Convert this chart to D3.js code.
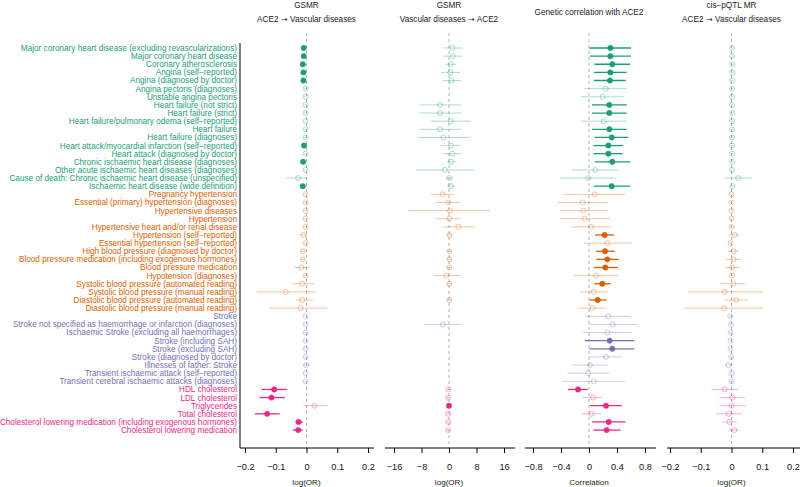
<!DOCTYPE html>
<html>
<head>
<meta charset="utf-8">
<script src="https://cdn.jsdelivr.net/npm/d3@7"></script>
<style>
  html, body { margin: 0; padding: 0; background: #fff; }
  svg { display: block; font-family: "Liberation Sans", Arial, Helvetica, sans-serif; }
</style>
</head>
<body>
<svg id="chart" width="800" height="487"></svg>
<script>
// ---------------- DATA ----------------
const labels = [
  "Major coronary heart disease (excluding revascularizations)",
  "Major coronary heart disease",
  "Coronary atherosclerosis",
  "Angina (self\u2212reported)",
  "Angina (diagnosed by doctor)",
  "Angina pectoris (diagnoses)",
  "Unstable angina pectoris",
  "Heart failure (not strict)",
  "Heart failure (strict)",
  "Heart failure/pulmonary odema (self\u2212reported)",
  "Heart failure",
  "Heart failure (diagnoses)",
  "Heart attack/myocardial infarction (self\u2212reported)",
  "Heart attack (diagnosed by doctor)",
  "Chronic ischaemic heart disease (diagnoses)",
  "Other acute ischaemic heart diseases (diagnoses)",
  "Cause of death: Chronic ischaemic heart disease (unspecified)",
  "Ischaemic heart disease (wide definition)",
  "Pregnancy hypertension",
  "Essential (primary) hypertension (diagnoses)",
  "Hypertensive diseases",
  "Hypertension",
  "Hypertensive heart and/or renal disease",
  "Hypertension (self\u2212reported)",
  "Essential hypertension (self\u2212reported)",
  "High blood pressure (diagnosed by doctor)",
  "Blood pressure medication (including exogenous hormones)",
  "Blood pressure medication",
  "Hypotension (diagnoses)",
  "Systolic blood pressure (automated reading)",
  "Systolic blood pressure (manual reading)",
  "Diastolic blood pressure (automated reading)",
  "Diastolic blood pressure (manual reading)",
  "Stroke",
  "Stroke not specified as haemorrhage or infarction (diagnoses)",
  "Ischaemic Stroke (excluding all haemorrhages)",
  "Stroke (including SAH)",
  "Stroke (excluding SAH)",
  "Stroke (diagnosed by doctor)",
  "Illnesses of father: Stroke",
  "Transient ischaemic attack (self\u2212reported)",
  "Transient cerebral ischaemic attacks (diagnoses)",
  "HDL cholesterol",
  "LDL cholesterol",
  "Triglycerides",
  "Total cholesterol",
  "Cholesterol lowering medication (including exogenous hormones)",
  "Cholesterol lowering medication"
];
const groupNames  = ["cardiac", "bp", "stroke", "lipid"];
const groupCounts = [18, 15, 9, 6];
const groupColors = ["#1b9e77", "#d95f02", "#7570b3", "#e7298a"];

// Panel 1: GSMR, ACE2 -> Vascular diseases (log OR)
const est1 = [-0.009,-0.009,-0.012,-0.010,-0.010,-0.003,-0.003,-0.003,-0.003,-0.003,-0.003,-0.003,-0.008,-0.003,-0.011,-0.003,-0.027,-0.012,
  -0.003,-0.003,-0.003,-0.003,-0.003,-0.010,-0.003,-0.012,-0.012,-0.017,-0.003,-0.014,-0.068,-0.014,-0.019,
  -0.003,-0.003,-0.003,-0.003,-0.003,-0.003,-0.001,-0.003,-0.003,
  -0.105,-0.114,0.026,-0.128,-0.026,-0.027];
const lo1 = [-0.012,-0.012,-0.016,-0.013,-0.013,-0.007,-0.007,-0.007,-0.007,-0.007,-0.007,-0.007,-0.011,-0.007,-0.015,-0.007,-0.066,-0.016,
  -0.007,-0.007,-0.007,-0.007,-0.007,-0.023,-0.007,-0.020,-0.019,-0.039,-0.007,-0.049,-0.162,-0.033,-0.120,
  -0.007,-0.007,-0.007,-0.007,-0.007,-0.007,-0.014,-0.007,-0.007,
  -0.146,-0.152,-0.010,-0.168,-0.035,-0.045];
const hi1 = [-0.006,-0.006,-0.008,-0.007,-0.007,0.001,0.001,0.001,0.001,0.001,0.001,0.001,-0.005,0.001,-0.007,0.001,0.004,-0.008,
  0.001,0.001,0.001,0.001,0.001,0.003,0.001,-0.004,-0.005,0.008,0.001,0.026,0.033,0.020,0.068,
  0.001,0.001,0.001,0.001,0.001,0.001,0.012,0.001,0.001,
  -0.063,-0.071,0.068,-0.087,-0.012,-0.012];
const sig1 = [1,1,1,1,1,0,0,0,0,0,0,0,1,0,1,0,0,1,
  0,0,0,0,0,0,0,0,0,0,0,0,0,0,0,
  0,0,0,0,0,0,0,0,0,
  1,1,0,1,1,1];

// Panel 2: GSMR, Vascular diseases -> ACE2 (log OR)
const est2 = [0.96,1.1,0.5,0.4,0.7,null,null,-2.6,-2.6,0.5,-2.6,-1.6,0.6,0.9,0.6,-1.2,0.1,0.6,
  -1.9,-0.2,0.3,0.1,2.7,0.1,null,0.1,0.1,0.1,-0.7,0.1,null,0.1,null,
  null,-1.8,null,null,null,null,null,null,null,
  -0.2,-0.2,0.0,-0.2,-0.2,-0.2];
const lo2 = [-1.6,-1.7,-0.9,-2.3,-1.8,null,null,-8.6,-8.6,-5.3,-8.6,-9.1,-2.3,-1.8,-0.7,-9.7,-0.9,-0.5,
  -5.3,-3.8,-11.8,-3.8,-1.6,-0.6,null,-0.6,-0.6,-0.6,-4.4,-0.6,null,-0.6,null,
  null,-7.2,null,null,null,null,null,null,null,
  -0.8,-0.8,-0.5,-0.8,-0.8,-0.8];
const hi2 = [3.9,3.9,1.9,3.2,3.5,null,null,3.5,3.5,6.3,3.5,6.1,3.4,3.8,2.2,7.4,1.1,1.7,
  1.5,3.4,11.9,3.2,7.3,0.8,null,0.8,0.8,0.8,3.5,0.8,null,0.8,null,
  null,3.9,null,null,null,null,null,null,null,
  0.4,0.4,0.5,0.4,0.4,0.4];
const sig2 = [0,0,0,0,0,0,0,0,0,0,0,0,0,0,0,0,0,0,
  0,0,0,0,0,0,0,0,0,0,0,0,0,0,0,
  0,0,0,0,0,0,0,0,0,
  0,0,1,0,0,0];

// Panel 3: Genetic correlation with ACE2
const est3 = [0.305,0.305,0.333,0.305,0.300,0.238,0.195,0.290,0.290,0.210,0.290,0.324,0.276,0.276,0.333,0.090,-0.010,0.324,
  0.081,-0.090,-0.081,-0.062,0.029,0.224,0.262,0.229,0.262,0.233,0.100,0.190,0.067,0.124,0.052,
  0.276,0.338,0.262,0.295,0.333,0.243,0.014,-0.010,0.067,
  -0.157,0.057,0.243,0.033,0.281,0.252];
const lo3 = [0.005,0.014,0.076,0.070,0.070,-0.067,-0.119,0.043,0.043,-0.119,0.043,0.081,0.062,0.062,0.086,-0.247,-0.414,0.070,
  -0.352,-0.452,-0.414,-0.414,-0.247,0.086,-0.071,0.095,0.105,0.067,-0.224,0.076,-0.129,0.005,-0.152,
  -0.052,0.005,-0.081,-0.062,0.005,0.005,-0.247,-0.309,-0.376,
  -0.300,-0.090,0.014,-0.114,0.043,0.062];
const hi3 = [0.600,0.600,0.586,0.538,0.524,0.538,0.505,0.538,0.538,0.538,0.538,0.562,0.490,0.481,0.586,0.419,0.395,0.586,
  0.519,0.276,0.267,0.300,0.300,0.357,0.610,0.367,0.424,0.410,0.429,0.310,0.267,0.252,0.252,
  0.600,0.690,0.610,0.648,0.648,0.481,0.267,0.290,0.514,
  -0.019,0.195,0.467,0.176,0.519,0.452];
const sig3 = [1,1,1,1,1,0,0,1,1,0,1,1,1,1,1,0,0,1,
  0,0,0,0,0,1,0,1,1,1,0,1,0,1,0,
  0,0,0,1,1,0,0,0,0,
  1,0,1,0,1,1];

// Panel 4: cis-pQTL MR, ACE2 -> Vascular diseases (log OR)
const est4 = [0.002,0.002,0.003,0.003,0.003,0.002,0.002,0.002,0.003,0.002,0.002,0.002,0.002,0.002,0.002,0.002,0.022,0.003,
  0.000,0.000,0.000,0.000,0.000,0.010,-0.003,0.007,0.007,0.002,0.002,0.006,-0.022,0.015,-0.024,
  -0.004,-0.002,-0.003,-0.003,-0.003,-0.001,-0.011,0.000,0.000,
  -0.022,0.003,0.000,-0.009,-0.007,0.009];
const lo4 = [-0.002,-0.002,-0.001,-0.001,-0.001,-0.002,-0.002,-0.002,-0.001,-0.002,-0.002,-0.002,-0.002,-0.002,-0.002,-0.002,-0.023,-0.003,
  -0.004,-0.004,-0.004,-0.004,-0.004,-0.009,-0.007,-0.012,-0.020,-0.020,-0.002,-0.036,-0.142,-0.023,-0.158,
  -0.008,-0.006,-0.007,-0.007,-0.007,-0.005,-0.020,-0.004,-0.004,
  -0.065,-0.039,-0.039,-0.050,-0.030,-0.010];
const hi4 = [0.006,0.006,0.007,0.007,0.007,0.006,0.006,0.006,0.007,0.006,0.006,0.006,0.006,0.006,0.006,0.006,0.066,0.009,
  0.004,0.004,0.004,0.004,0.004,0.026,0.001,0.023,0.032,0.026,0.006,0.043,0.104,0.054,0.104,
  0.000,0.002,0.001,0.001,0.001,0.003,0.003,0.004,0.004,
  0.022,0.045,0.046,0.035,0.017,0.026];
const sig4 = new Array(48).fill(0);

// Tick values / labels
const ticks1 = [-0.2,-0.1,0,0.1,0.2];  const tickLabels1 = ["\u22120.2","\u22120.1","0","0.1","0.2"];
const ticks2 = [-16,-8,0,8,16];        const tickLabels2 = ["\u221216","\u22128","0","8","16"];
const ticks3 = [-0.8,-0.4,0,0.4,0.8];  const tickLabels3 = ["\u22120.8","\u22120.4","0","0.4","0.8"];
const ticks4 = [-0.2,-0.1,0,0.1,0.2];  const tickLabels4 = ["\u22120.2","\u22120.1","0","0.1","0.2"];

const titles1 = ["GSMR", "ACE2 \u279D Vascular diseases"];
const titles2 = ["GSMR", "Vascular diseases \u279D ACE2"];
const titles3 = ["", "Genetic correlation with ACE2"];
const titles4 = ["cis\u2212pQTL MR", "ACE2 \u279D Vascular diseases"];
const xTitles = ["log(OR)", "log(OR)", "Correlation", "log(OR)"];

// ---------------- LAYOUT ----------------
const svg = d3.select("#chart");
const axisY = 448;
const zeroTop = 33;
const rowTop = 48, rowBottom = 430.1;

const y = d3.scalePoint().domain(d3.range(labels.length)).range([rowTop, rowBottom]);

const groupIdx = [];
groupCounts.forEach((c, g) => { for (let i = 0; i < c; i++) groupIdx.push(g); });

const panels = [
  { est: est1, lo: lo1, hi: hi1, sig: sig1, ticks: ticks1, tl: tickLabels1, titles: titles1, xt: xTitles[0],
    x: d3.scaleLinear().domain([-0.2, 0.2]).range([245, 368]), line: [240, 374], titleY: [8, 22] },
  { est: est2, lo: lo2, hi: hi2, sig: sig2, ticks: ticks2, tl: tickLabels2, titles: titles2, xt: xTitles[1],
    x: d3.scaleLinear().domain([-16, 16]).range([394, 504]), line: [385, 515], titleY: [8, 22] },
  { est: est3, lo: lo3, hi: hi3, sig: sig3, ticks: ticks3, tl: tickLabels3, titles: titles3, xt: xTitles[2],
    x: d3.scaleLinear().domain([-0.8, 0.8]).range([533, 645]), line: [525, 656], titleY: [8, 15] },
  { est: est4, lo: lo4, hi: hi4, sig: sig4, ticks: ticks4, tl: tickLabels4, titles: titles4, xt: xTitles[3],
    x: d3.scaleLinear().domain([-0.2, 0.2]).range([670, 793]), line: [667, 800], titleY: [8, 22] }
];

// Row labels
svg.append("g").selectAll("text").data(labels).join("text")
  .attr("x", 237)
  .attr("y", (d, i) => y(i))
  .attr("dy", "0.36em")
  .attr("text-anchor", "end")
  .attr("font-size", 8.2)
  .attr("fill", (d, i) => groupColors[groupIdx[i]])
  .text(d => d);

// Left vertical axis line
svg.append("line").attr("x1", 240).attr("x2", 240).attr("y1", 43).attr("y2", axisY)
  .attr("stroke", "#000").attr("stroke-width", 1);

panels.forEach((p, pi) => {
  const g = svg.append("g");
  const x = p.x;
  const cx = x(0);

  // titles
  g.append("text").attr("x", cx).attr("y", p.titleY[0]).attr("text-anchor", "middle")
    .attr("font-size", 8.2).attr("fill", "#222").text(p.titles[0]);
  g.append("text").attr("x", cx).attr("y", p.titleY[1]).attr("text-anchor", "middle")
    .attr("font-size", 8.2).attr("fill", "#222").text(p.titles[1]);

  // zero line
  g.append("line").attr("x1", cx).attr("x2", cx).attr("y1", zeroTop).attr("y2", axisY)
    .attr("stroke", "#aaa").attr("stroke-width", 0.9).attr("stroke-dasharray", "3,3");

  const rows = d3.range(labels.length).filter(i => p.est[i] !== null);

  // CI lines
  g.append("g").selectAll("line").data(rows).join("line")
    .attr("x1", i => x(p.lo[i])).attr("x2", i => x(p.hi[i]))
    .attr("y1", i => y(i)).attr("y2", i => y(i))
    .attr("stroke", i => groupColors[groupIdx[i]])
    .attr("stroke-opacity", i => p.sig[i] ? 1 : 0.4)
    .attr("stroke-width", i => p.sig[i] ? 1.3 : 0.9);

  // points
  g.append("g").selectAll("circle").data(rows).join("circle")
    .attr("cx", i => x(p.est[i])).attr("cy", i => y(i))
    .attr("r", i => p.sig[i] ? 2.7 : 2.5)
    .attr("fill", i => p.sig[i] ? groupColors[groupIdx[i]] : "none")
    .attr("stroke", i => groupColors[groupIdx[i]])
    .attr("stroke-opacity", i => p.sig[i] ? 1 : 0.45)
    .attr("stroke-width", i => p.sig[i] ? 0.5 : 0.8);

  // axis
  const axis = d3.axisBottom(x).tickValues(p.ticks).tickFormat((d, k) => p.tl[k])
    .tickSize(5).tickSizeOuter(0).tickPadding(10.5);
  const ag = g.append("g").attr("transform", `translate(0,${axisY})`).call(axis);
  ag.select(".domain").attr("d", `M${p.line[0]},0H${p.line[1]}`).attr("stroke", "#000");
  ag.selectAll(".tick line").attr("stroke", "#000");
  ag.selectAll(".tick text").attr("font-size", 9.2).attr("fill", "#111")
    .attr("font-family", "'Liberation Sans', Arial, Helvetica, sans-serif");

  g.append("text").attr("x", cx).attr("y", 485).attr("text-anchor", "middle")
    .attr("font-size", 8.1).attr("fill", "#222").text(p.xt);
});
</script>
</body>
</html>
